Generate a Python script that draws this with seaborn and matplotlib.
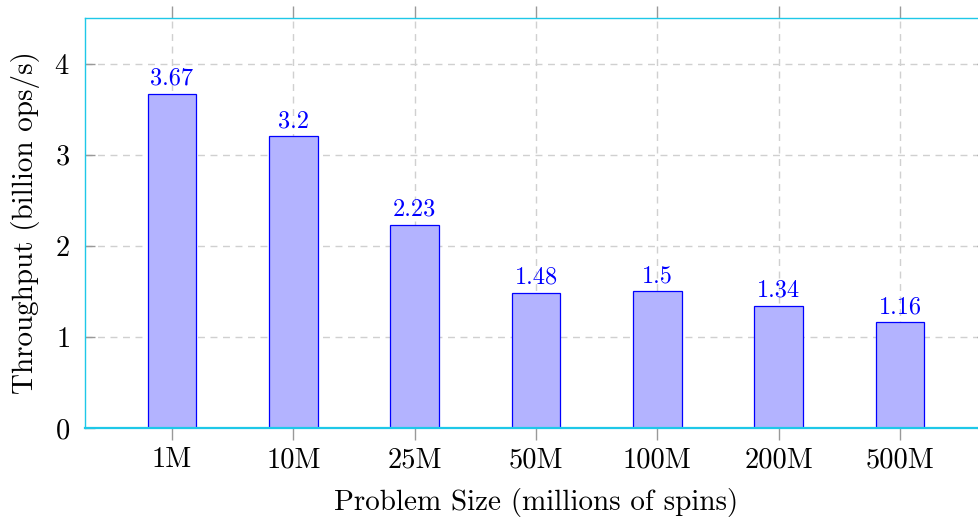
import numpy as np
import pandas as pd
import seaborn as sns
from matplotlib import pyplot as plt

sizes = ["1M", "10M", "25M", "50M", "100M", "200M", "500M"]
throughput = [3.67, 3.2, 2.23, 1.48, 1.5, 1.34, 1.16]

df = pd.DataFrame({"size": sizes, "throughput": throughput})

sns.set_theme(style="white")
plt.rcParams["font.family"] = ["cmr10", "DejaVu Serif"]
plt.rcParams["mathtext.fontset"] = "cm"
plt.rcParams["axes.formatter.use_mathtext"] = True
plt.rcParams["text.color"] = "black"
plt.rcParams["axes.labelcolor"] = "black"
plt.rcParams["xtick.labelcolor"] = "black"
plt.rcParams["ytick.labelcolor"] = "black"

fig = plt.figure(figsize=(9.79, 5.17), dpi=100)
ax = fig.add_axes([85 / 979, 89 / 517, 902 / 979, 410 / 517])

sns.barplot(data=df, x="size", y="throughput", order=sizes, width=0.4,
            color="#b3b3ff", saturation=1, edgecolor="#0000ff", linewidth=0.9, ax=ax)

ax.bar_label(ax.containers[0], fmt="%g", padding=3, color="#0000ff", fontsize=17.5)

ax.set_xlim(-0.717, 6.717)
ax.set_ylim(0, 4.5)
ax.set_yticks([0, 1, 2, 3, 4])

ax.grid(True, linestyle=(0, (5, 4)), color="#d0d0d0", linewidth=1)
ax.set_axisbelow(True)

for side in ["top", "bottom", "left", "right"]:
    ax.spines[side].set_color("#1ec8e8")
    ax.spines[side].set_linewidth(1.0)
ax.spines["bottom"].set_linewidth(1.6)

ax.tick_params(axis="x", direction="out", length=8.5, width=1, color="#999999",
               top=True, bottom=True, labelsize=20.5, pad=5)
ax.tick_params(axis="y", direction="in", length=7, width=1, color="#999999",
               left=True, right=True, labelsize=20.5, pad=11)

ax.set_xlabel("Problem Size (millions of spins)", fontsize=21, labelpad=11)
ax.set_ylabel("Throughput (billion ops/s)", fontsize=21, labelpad=10)

fig.savefig("out.png", dpi=100)
